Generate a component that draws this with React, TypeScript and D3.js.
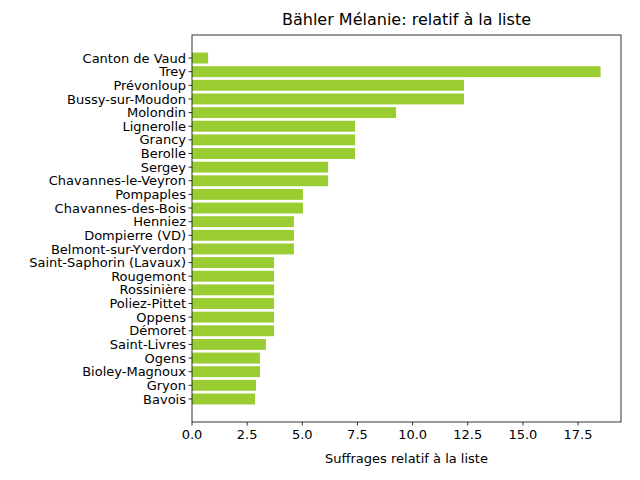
import * as d3 from 'd3';

const communes = [
  'Canton de Vaud', 'Trey', 'Prévonloup', 'Bussy-sur-Moudon', 'Molondin', 'Lignerolle',
  'Grancy', 'Berolle', 'Sergey', 'Chavannes-le-Veyron', 'Pompaples', 'Chavannes-des-Bois',
  'Henniez', 'Dompierre (VD)', 'Belmont-sur-Yverdon', 'Saint-Saphorin (Lavaux)', 'Rougemont',
  'Rossinière', 'Poliez-Pittet', 'Oppens', 'Démoret', 'Saint-Livres', 'Ogens',
  'Bioley-Magnoux', 'Gryon', 'Bavois',
];
const suffrages = [
  0.73, 18.52, 12.33, 12.33, 9.25, 7.39,
  7.39, 7.39, 6.17, 6.17, 5.03, 5.03,
  4.62, 4.62, 4.62, 3.72, 3.72,
  3.72, 3.72, 3.72, 3.72, 3.35, 3.08,
  3.08, 2.9, 2.86,
];
const xTicks = [0, 2.5, 5, 7.5, 10, 12.5, 15, 17.5];

const W = 640, H = 480;
const M = { left: 192, right: 621, top: 35, bottom: 422 };
const FONT = 'DejaVu Sans, sans-serif';

export default function App() {
  const n = communes.length;
  const span = n - 1 + 0.8;
  const pad = span * 0.05;
  const maxV = d3.max(suffrages) ?? 1;
  const x = d3.scaleLinear().domain([0, maxV * 1.05]).range([M.left, M.right]);
  const y = d3.scaleLinear().domain([-0.4 - pad, n - 1 + 0.4 + pad]).range([M.top, M.bottom]);
  const bh = y(0.8) - y(0);

  return (
    <svg width={W} height={H} style={{ position: 'absolute', left: 0, top: 0, background: '#fff' }} fontFamily={FONT}>
      <text x={(M.left + M.right) / 2} y={25} textAnchor="middle" fontSize={16}>Bähler Mélanie: relatif à la liste</text>
      {suffrages.map((v, i) => (
        <rect key={i} x={x(0)} y={y(i) - bh / 2} width={x(v) - x(0)} height={bh} fill="#9acd32" />
      ))}
      {communes.map((c, i) => (
        <g key={c}>
          <line x1={M.left - 3.5} x2={M.left} y1={y(i)} y2={y(i)} stroke="#000" strokeWidth={0.8} />
          <text x={M.left - 6} y={y(i)} dy="0.35em" textAnchor="end" fontSize={13}>{c}</text>
        </g>
      ))}
      {xTicks.map((t) => (
        <g key={t}>
          <line x1={x(t)} x2={x(t)} y1={M.bottom} y2={M.bottom + 3.5} stroke="#000" strokeWidth={0.8} />
          <text x={x(t)} y={M.bottom + 17} textAnchor="middle" fontSize={13}>{t.toFixed(1)}</text>
        </g>
      ))}
      <rect x={M.left} y={M.top} width={M.right - M.left} height={M.bottom - M.top} fill="none" stroke="#000" strokeWidth={0.8} />
      <text x={(M.left + M.right) / 2} y={463} textAnchor="middle" fontSize={13}>Suffrages relatif à la liste</text>
    </svg>
  );
}
